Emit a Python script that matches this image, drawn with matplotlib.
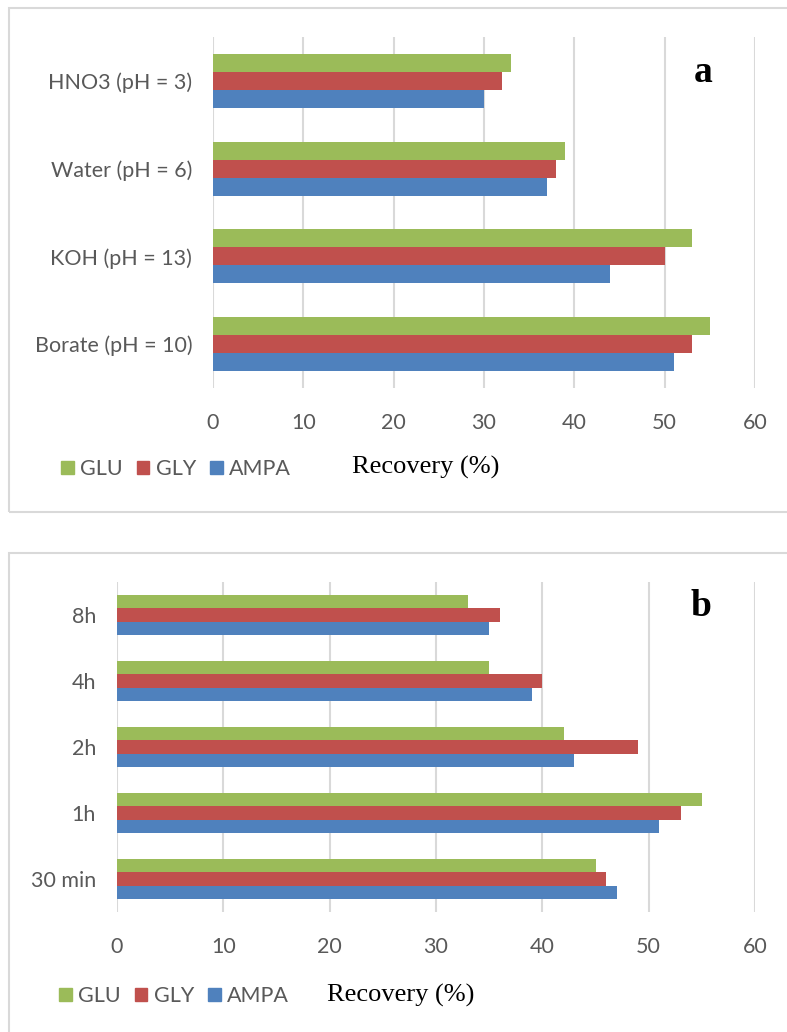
import matplotlib
matplotlib.use("Agg")
import matplotlib.pyplot as plt
from matplotlib.patches import Patch, Rectangle
import numpy as np

# recovery (%) per extraction solvent, listed bottom to top
solvents = ["Borate (pH = 10)", "KOH (pH = 13)", "Water (pH = 6)", "HNO3 (pH = 3)"]
solv_ampa = [51, 44, 37, 30]
solv_gly = [53, 50, 38, 32]
solv_glu = [55, 53, 39, 33]

# recovery (%) per extraction time, listed bottom to top
times = ["30 min", "1h", "2h", "4h", "8h"]
time_ampa = [47, 51, 43, 39, 35]
time_gly = [46, 53, 49, 40, 36]
time_glu = [45, 55, 42, 35, 33]

xticks = [0, 10, 20, 30, 40, 50, 60]

BLUE = "#4f81bd"
RED = "#c0504d"
GREEN = "#9bbb59"
GRID = "#d9d9d9"
TEXT = "#595959"
SANS = "Lato"
SERIF = "Liberation Serif"
FS = 15.5

W, H = 787, 1032


def fx(px):
    return px / W


def fy(px):
    return 1 - px / H


def bar_panel(ax, cats, ampa, gly, glu):
    y = np.arange(len(cats))
    h = 0.205
    ax.barh(y - h, ampa, height=h, color=BLUE)
    ax.barh(y, gly, height=h, color=RED)
    ax.barh(y + h, glu, height=h, color=GREEN)
    ax.set_xlim(0, 60)
    ax.set_ylim(-0.5, len(cats) - 0.5)
    ax.set_xticks(xticks)
    ax.set_yticks(y)
    ax.set_yticklabels(cats, fontsize=FS, color=TEXT, family=SANS)
    ax.set_xticklabels([str(t) for t in xticks], fontsize=FS, color=TEXT, family=SANS)
    ax.tick_params(length=0)
    ax.tick_params(axis="y", pad=15)
    ax.tick_params(axis="x", pad=18)
    ax.grid(axis="x", color=GRID, linewidth=1.5)
    ax.set_axisbelow(True)
    for s in ax.spines.values():
        s.set_visible(False)


def legend(fig, x, y):
    handles = [Patch(color=GREEN), Patch(color=RED), Patch(color=BLUE)]
    fig.legend(handles, ["GLU", "GLY", "AMPA"], loc="center left",
               bbox_to_anchor=(fx(x), fy(y)), ncol=3, frameon=False,
               handlelength=0.6, handleheight=0.6, handletextpad=0.28,
               columnspacing=0.65, borderpad=0, borderaxespad=0,
               prop={"family": SANS, "size": FS}, labelcolor=TEXT)


fig = plt.figure(figsize=(W / 100, H / 100), dpi=100)

# panel frames
fig.patches.append(Rectangle((fx(8.5), fy(512)), 1.0, fy(8) - fy(512),
                             transform=fig.transFigure, fill=False,
                             edgecolor=GRID, linewidth=1.5))
fig.patches.append(Rectangle((fx(8.5), fy(1040)), 1.0, fy(553) - fy(1040),
                             transform=fig.transFigure, fill=False,
                             edgecolor=GRID, linewidth=1.5))

ax_a = fig.add_axes([fx(213), fy(388), fx(755) - fx(213), fy(37) - fy(388)])
bar_panel(ax_a, solvents, solv_ampa, solv_gly, solv_glu)
ax_a.text(0.904, 0.90, "a", transform=ax_a.transAxes, ha="center", va="center",
          fontsize=27, fontweight="bold", family=SERIF)

ax_b = fig.add_axes([fx(117), fy(912), fx(755) - fx(117), fy(582) - fy(912)])
bar_panel(ax_b, times, time_ampa, time_gly, time_glu)
ax_b.text(0.915, 0.925, "b", transform=ax_b.transAxes, ha="center", va="center",
          fontsize=27, fontweight="bold", family=SERIF)

fig.text(fx(426), fy(467), "Recovery (%)", ha="center", va="center",
         fontsize=19, family=SERIF)
fig.text(fx(401), fy(995), "Recovery (%)", ha="center", va="center",
         fontsize=19, family=SERIF)

legend(fig, 61, 469)
legend(fig, 59, 996)

fig.savefig("out.png", dpi=100)
